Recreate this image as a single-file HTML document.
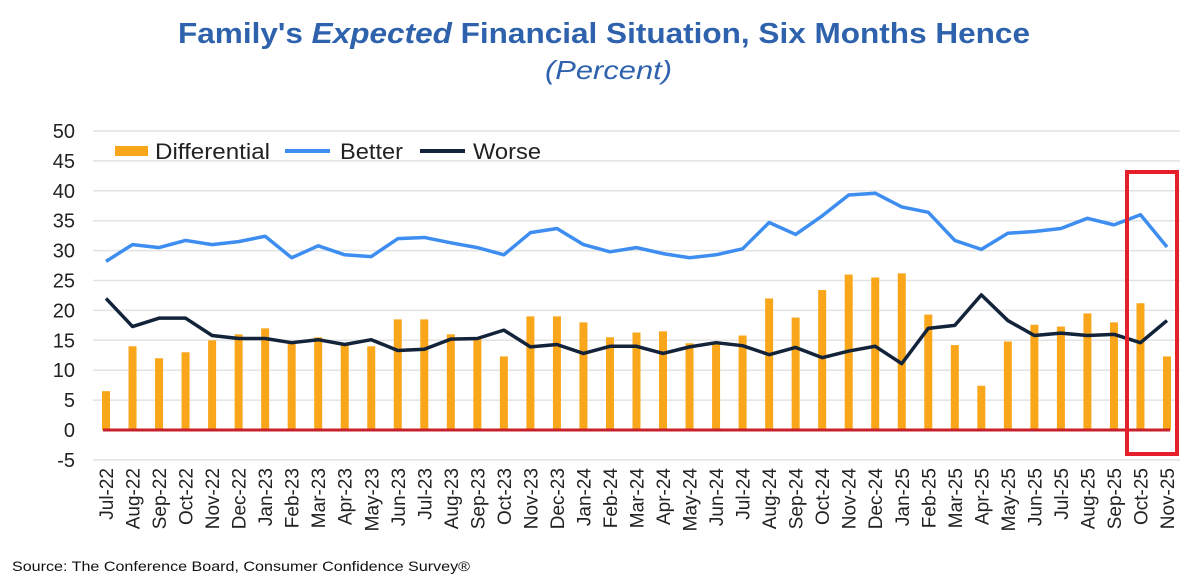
<!DOCTYPE html>
<html><head><meta charset="utf-8"><style>
body{margin:0;background:#fff;font-family:"Liberation Sans",Arial,sans-serif}
</style></head><body>
<svg id="c" width="1199" height="582" xmlns="http://www.w3.org/2000/svg">
<text x="178" y="43" textLength="852" lengthAdjust="spacingAndGlyphs" font-size="29" font-weight="bold" fill="#2f62ad">Family's <tspan font-style="italic">Expected</tspan> Financial Situation, Six Months Hence</text>
<text x="545" y="79" textLength="127" lengthAdjust="spacingAndGlyphs" font-size="26" font-style="italic" fill="#2f62ad">(Percent)</text>
<g id="grid"></g><g id="bars"></g><g id="lines"></g><g id="xl"></g>
<g>
<rect x="115" y="146" width="33" height="10" fill="#f9a61a"/>
<text x="155" y="159" font-size="22" textLength="115" lengthAdjust="spacingAndGlyphs" fill="#222">Differential</text>
<line x1="285" y1="151" x2="330" y2="151" stroke="#3d8ef0" stroke-width="4"/>
<text x="340" y="159" font-size="22" textLength="63" lengthAdjust="spacingAndGlyphs" fill="#222">Better</text>
<line x1="420" y1="151" x2="465" y2="151" stroke="#13233a" stroke-width="4"/>
<text x="473" y="159" font-size="22" textLength="68" lengthAdjust="spacingAndGlyphs" fill="#222">Worse</text>
</g>
<rect x="1127" y="172" width="50" height="282" fill="none" stroke="#e5202a" stroke-width="4"/>
<text x="12" y="571" font-size="14" textLength="458" lengthAdjust="spacingAndGlyphs" fill="#111">Source: The Conference Board, Consumer Confidence Survey®</text>
</svg>
<script>
const months=["Jul-22","Aug-22","Sep-22","Oct-22","Nov-22","Dec-22","Jan-23","Feb-23","Mar-23","Apr-23","May-23","Jun-23","Jul-23","Aug-23","Sep-23","Oct-23","Nov-23","Dec-23","Jan-24","Feb-24","Mar-24","Apr-24","May-24","Jun-24","Jul-24","Aug-24","Sep-24","Oct-24","Nov-24","Dec-24","Jan-25","Feb-25","Mar-25","Apr-25","May-25","Jun-25","Jul-25","Aug-25","Sep-25","Oct-25","Nov-25"];
const differential=[6.5,14,12,13,15,16,17,14.5,15.5,14.5,14,18.5,18.5,16,15.5,12.3,19,19,18,15.5,16.3,16.5,14.5,14.5,15.8,22,18.8,23.4,26,25.5,26.2,19.3,14.2,7.4,14.8,17.6,17.3,19.5,18,21.2,12.3];
const better=[28.2,31,30.5,31.7,31,31.5,32.4,28.8,30.8,29.3,29,32,32.2,31.3,30.5,29.3,33,33.7,31,29.8,30.5,29.5,28.8,29.3,30.3,34.7,32.7,35.8,39.3,39.6,37.3,36.4,31.7,30.2,32.9,33.2,33.7,35.4,34.3,36,30.6];
const worse=[22,17.3,18.7,18.7,15.8,15.3,15.3,14.6,15.1,14.3,15.1,13.3,13.5,15.2,15.3,16.7,13.9,14.3,12.8,14,14,12.8,13.9,14.6,14.1,12.6,13.8,12.1,13.2,14,11.1,17,17.5,22.6,18.3,15.8,16.2,15.8,16,14.6,18.3];
const yTicks=[-5,0,5,10,15,20,25,30,35,40,45,50];
const NS="http://www.w3.org/2000/svg";
const X=i=>106+i*(1167-106)/(months.length-1);
const Y=v=>430-v*(430-131)/50;
function mk(t,a,p){const e=document.createElementNS(NS,t);for(const k in a)e.setAttribute(k,a[k]);document.getElementById(p).appendChild(e);return e;}
yTicks.forEach(v=>{
 if(v!==0){const g=mk('line',{x1:93,x2:1180,y1:Y(v),y2:Y(v),stroke:'#e3e3e3','stroke-width':1.5},'grid');
 
 }
 const t=mk('text',{x:75,y:Y(v)+7,'text-anchor':'end','font-size':20,fill:'#222'},'grid');t.textContent=v;
 
 
});
differential.forEach((v,i)=>{
 const r=mk('rect',{x:X(i)-4,y:Math.min(Y(v),Y(0)),width:8,height:Math.abs(Y(0)-Y(v)),fill:'#f9a61a'},'bars');
 
 
});
const z=mk('line',{x1:X(0)-3,x2:X(months.length-1)+3,y1:Y(0),y2:Y(0),stroke:'#c8202a','stroke-width':3},'bars');


[[better,'#3d8ef0','line-better'],[worse,'#13233a','line-worse']].forEach(([d,c,n])=>{
 const p=mk('polyline',{points:d.map((v,i)=>X(i)+','+Y(v)).join(' '),fill:'none',stroke:c,'stroke-width':3.5,'stroke-linejoin':'round'},'lines');
 
 
});
months.forEach((m,i)=>{
 const t=mk('text',{x:0,y:0,'text-anchor':'end','font-size':19,fill:'#222',transform:`translate(${X(i)+7},468) rotate(-90)`},'xl');t.textContent=m;
 
 
});
</script>
</body></html>
